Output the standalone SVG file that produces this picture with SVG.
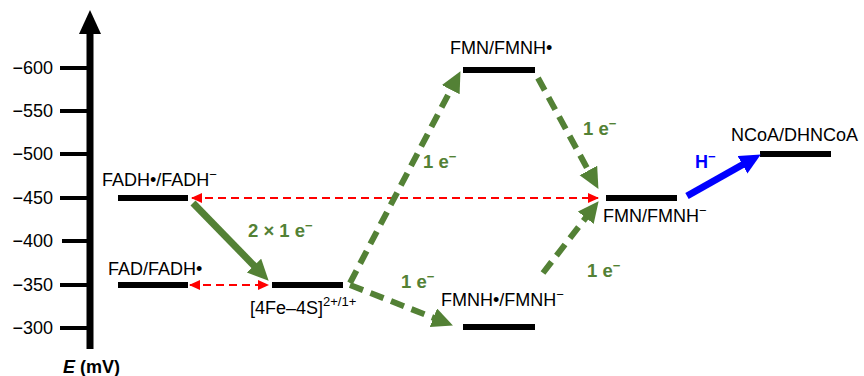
<svg xmlns="http://www.w3.org/2000/svg" width="864" height="376" viewBox="0 0 864 376">
<style>
text{font-family:"Liberation Sans",Arial,sans-serif;font-size:18px;fill:#000}
.tick{text-anchor:end}
.g{fill:#538135;font-weight:bold;font-size:18.5px}
.b{fill:#0000ff;font-weight:bold}
.sup{font-size:13px}
.bar{stroke:#000;stroke-width:6}
.gd{stroke:#538135;stroke-width:6;stroke-dasharray:14 8;fill:none}
.gs{stroke:#538135;stroke-width:7;fill:none}
.rd{stroke:#ff0000;stroke-width:2;stroke-dasharray:8 5;fill:none}
.bl{stroke:#0000ff;stroke-width:7;fill:none}
</style>
<defs>
<marker id="ag" markerUnits="userSpaceOnUse" markerWidth="22" markerHeight="22" refX="4" refY="10" orient="auto"><path d="M0,0 L21,10 L0,20 z" fill="#538135"/></marker>
<marker id="ab" markerUnits="userSpaceOnUse" markerWidth="22" markerHeight="22" refX="4" refY="10" orient="auto"><path d="M0,0 L21,10 L0,20 z" fill="#0000ff"/></marker>
<marker id="ar" markerUnits="userSpaceOnUse" markerWidth="12" markerHeight="12" refX="10" refY="5" orient="auto-start-reverse"><path d="M0,0 L11,5 L0,10 z" fill="#ff0000"/></marker>
</defs>
<g id="axis">
<line x1="90" y1="349" x2="90" y2="30" stroke="#000" stroke-width="7"/>
<path d="M79,34 L90,10 L101,34 z" fill="#000"/>
<g stroke="#000" stroke-width="4">
<line x1="60" y1="68" x2="90" y2="68"/>
<line x1="60" y1="111" x2="90" y2="111"/>
<line x1="60" y1="154" x2="90" y2="154"/>
<line x1="60" y1="198" x2="90" y2="198"/>
<line x1="62" y1="241" x2="90" y2="241"/>
<line x1="60" y1="285" x2="90" y2="285"/>
<line x1="60" y1="328" x2="90" y2="328"/>
</g>
<text class="tick" x="53" y="74">−600</text>
<text class="tick" x="53" y="117">−550</text>
<text class="tick" x="53" y="160">−500</text>
<text class="tick" x="53" y="204">−450</text>
<text class="tick" x="53" y="247">−400</text>
<text class="tick" x="53" y="291">−350</text>
<text class="tick" x="53" y="334">−300</text>
<text x="63" y="373" font-weight="bold" font-size="19"><tspan font-style="italic">E</tspan> (mV)</text>
</g>
<g id="fadh-fadh">
<line class="bar" x1="118" y1="198" x2="188" y2="198"/>
<text x="102" y="186">FADH•/FADH<tspan class="sup" dy="-7">−</tspan></text>
</g>
<g id="fad-fadh">
<line class="bar" x1="118" y1="285" x2="188" y2="285"/>
<text x="108" y="275">FAD/FADH•</text>
</g>
<g id="fes">
<line class="bar" x1="272" y1="285" x2="343" y2="285"/>
<text x="250" y="314">[4Fe–4S]<tspan class="sup" dy="-8">2+/1+</tspan></text>
</g>
<g id="fmn-fmnh-rad">
<line class="bar" x1="463" y1="70" x2="535" y2="70"/>
<text x="450" y="54">FMN/FMNH•</text>
</g>
<g id="fmnh-rad-fmnh">
<line class="bar" x1="463" y1="327" x2="535" y2="327"/>
<text x="441" y="306">FMNH•/FMNH<tspan class="sup" dy="-7">−</tspan></text>
</g>
<g id="fmn-fmnh">
<line class="bar" x1="606" y1="198" x2="677" y2="198"/>
<text x="603" y="222">FMN/FMNH<tspan class="sup" dy="-7">−</tspan></text>
</g>
<g id="ncoa">
<line class="bar" x1="760" y1="154" x2="831" y2="154"/>
<text x="731" y="141">NCoA/DHNCoA</text>
</g>
<g id="connectors">
<line class="rd" x1="192" y1="198" x2="598" y2="198" marker-start="url(#ar)" marker-end="url(#ar)"/>
<line class="rd" x1="190" y1="285" x2="268" y2="285" marker-start="url(#ar)" marker-end="url(#ar)"/>
<line class="gs" x1="193" y1="203" x2="256.8" y2="268.5" marker-end="url(#ag)"/>
<line class="gd" x1="350" y1="283" x2="452.6" y2="86.2" marker-end="url(#ag)"/>
<line class="gd" x1="350" y1="285" x2="437.1" y2="319.2" marker-end="url(#ag)"/>
<line class="gd" x1="538" y1="78" x2="590.3" y2="174" marker-end="url(#ag)"/>
<line class="gd" x1="543" y1="273" x2="588.2" y2="214.6" marker-end="url(#ag)"/>
<line class="bl" x1="687" y1="196" x2="746" y2="162.8" marker-end="url(#ab)"/>
<text class="g" x="248" y="237">2 × 1 e<tspan class="sup" dy="-7">−</tspan></text>
<text class="g" x="423" y="168">1 e<tspan class="sup" dy="-7">−</tspan></text>
<text class="g" x="583" y="135">1 e<tspan class="sup" dy="-7">−</tspan></text>
<text class="g" x="401" y="288">1 e<tspan class="sup" dy="-7">−</tspan></text>
<text class="g" x="587" y="277">1 e<tspan class="sup" dy="-7">−</tspan></text>
<text class="b" x="695" y="168">H<tspan class="sup" dy="-7">−</tspan></text>
</g>
</svg>
